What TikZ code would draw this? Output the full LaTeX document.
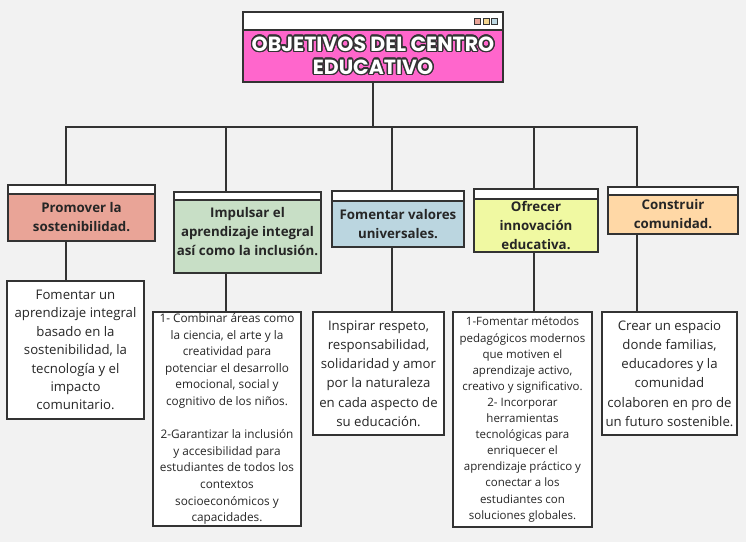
\documentclass[tikz,border=0pt]{standalone}
\usepackage{fontspec}
\setmainfont{Open Sans}
\newfontfamily\titlefont{Poppins}
\usepackage{xcolor}
\usepackage{contour}
\usetikzlibrary{positioning}
\definecolor{paper}{HTML}{F2F2F2}
\definecolor{edge}{HTML}{333333}
\definecolor{ink}{HTML}{262626}
\definecolor{pinkish}{HTML}{FF66CC}
\definecolor{salmon}{HTML}{E9A497}
\definecolor{mint}{HTML}{C8DFC6}
\definecolor{sky}{HTML}{BBD6E0}
\definecolor{lemon}{HTML}{F0F9A2}
\definecolor{peach}{HTML}{FFD8A6}
\definecolor{sqb}{HTML}{F3D58E}
\contourlength{1.4pt}
\tikzstyle{strip} = [rectangle, draw=edge, fill=white, line width=1.3pt, inner sep=0pt, outer sep=0pt]
\tikzstyle{goal} = [rectangle, draw=edge, line width=1.3pt, inner sep=1pt, outer sep=0pt, text centered, align=center, text=ink, font=\bfseries\fontsize{13.3}{19}\selectfont]
\tikzstyle{detail} = [rectangle, draw=edge, fill=white, line width=1.3pt, inner sep=1pt, outer sep=0pt, text centered, align=center, text=ink]
\tikzstyle{dot} = [rectangle, draw=edge, line width=0.6pt, minimum size=6pt, inner sep=0pt]
\tikzstyle{link} = [draw=edge, line width=1.3pt]

\begin{document}
\begin{tikzpicture}[x=1pt, y=-1pt]
    \fill[paper] (0,0) rectangle (746,542);
    \useasboundingbox (0,0) rectangle (746,542);

    \node (bar) [strip, minimum width=260pt, minimum height=18pt, anchor=north] at (373,12) {};
    \node (head) [rectangle, draw=edge, fill=pinkish, line width=1.3pt, outer sep=0pt, minimum width=260pt, minimum height=52pt, below=0pt of bar, align=center, text=white, font=\titlefont\bfseries\fontsize{20.5}{23}\selectfont] {\contour{edge}{OBJETIVOS DEL CENTRO}\\\contour{edge}{EDUCATIVO}};
    \node (sq3) [dot, fill=sky, left=5pt of bar.east] {};
    \node (sq2) [dot, fill=sqb, left=2pt of sq3] {};
    \node (sq1) [dot, fill=salmon, left=2pt of sq2] {};

    \node (strip1) [strip, minimum width=147pt, minimum height=9pt, anchor=north] at (81.5,185) {};
    \node (goal1) [goal, fill=salmon, minimum width=147pt, minimum height=47pt, below=0pt of strip1] {Promover la\\sostenibilidad.};
    \node (strip2) [strip, minimum width=147pt, minimum height=8pt, anchor=north] at (247.5,192) {};
    \node (goal2) [goal, fill=mint, minimum width=147pt, minimum height=73pt, below=0pt of strip2] {Impulsar el\\aprendizaje integral\\así como la inclusión.\\[-8pt]};
    \node (strip3) [strip, minimum width=132pt, minimum height=10pt, anchor=north] at (398,191) {};
    \node (goal3) [goal, fill=sky, minimum width=132pt, minimum height=46pt, below=0pt of strip3] {Fomentar valores\\universales.};
    \node (strip4) [strip, minimum width=124pt, minimum height=10pt, anchor=north] at (536,189) {};
    \node (goal4) [goal, fill=lemon, minimum width=124pt, minimum height=53pt, below=0pt of strip4] {Ofrecer\\innovación\\educativa.};
    \node (strip5) [strip, minimum width=130pt, minimum height=8pt, anchor=north] at (673,187) {};
    \node (goal5) [goal, fill=peach, minimum width=130pt, minimum height=39pt, below=0pt of strip5] {Construir\\comunidad.};

    \node (detail1) [detail, minimum width=137pt, minimum height=138pt, anchor=north, font=\fontsize{13.2}{18.4}\selectfont] at (75.5,281) {Fomentar un\\aprendizaje integral\\basado en la\\sostenibilidad, la\\tecnología y el\\impacto\\comunitario.};
    \node (detail2) [detail, minimum width=148pt, minimum height=214pt, anchor=north, font=\fontsize{11.8}{16.6}\selectfont] at (227,312) {1- Combinar áreas como\\la ciencia, el arte y la\\creatividad para\\potenciar el desarrollo\\emocional, social y\\cognitivo de los niños.\\[16.6pt]2-Garantizar la inclusión\\y accesibilidad para\\estudiantes de todos los\\contextos\\socioeconómicos y\\capacidades.};
    \node (detail3) [detail, minimum width=131pt, minimum height=123pt, anchor=north, font=\fontsize{13.2}{19.2}\selectfont] at (378.5,312) {Inspirar respeto,\\responsabilidad,\\solidaridad y amor\\por la naturaleza\\en cada aspecto de\\su educación.};
    \node (detail4) [detail, minimum width=139pt, minimum height=215pt, anchor=north, font=\fontsize{11.5}{16.1}\selectfont] at (522.5,312) {1-Fomentar métodos\\pedagógicos modernos\\que motiven el\\aprendizaje activo,\\creativo y significativo.\\2- Incorporar\\herramientas\\tecnológicas para\\enriquecer el\\aprendizaje práctico y\\conectar a los\\estudiantes con\\soluciones globales.};
    \node (detail5) [detail, minimum width=135pt, minimum height=123pt, anchor=north, font=\fontsize{13.2}{19.2}\selectfont] at (669.5,312) {Crear un espacio\\donde familias,\\educadores y la\\comunidad\\colaboren en pro de\\un futuro sostenible.};

    \coordinate (drop1) at (66,127);
    \coordinate (drop2) at (226,127);
    \coordinate (drop3) at (392,127);
    \coordinate (drop4) at (534,127);
    \coordinate (drop5) at (637,127);

    \draw[link] (head.south) -- (head.south |- drop1);
    \draw[link] (drop1 |- strip1.north) -- (drop1) -- (drop5) -- (drop5 |- strip5.north);
    \foreach \i in {2,3,4} \draw[link] (drop\i) -- (drop\i |- strip\i.north);
    \foreach \i in {1,...,5} \draw[link] (drop\i |- goal\i.south) -- (drop\i |- detail\i.north);

\end{tikzpicture}
\end{document}
